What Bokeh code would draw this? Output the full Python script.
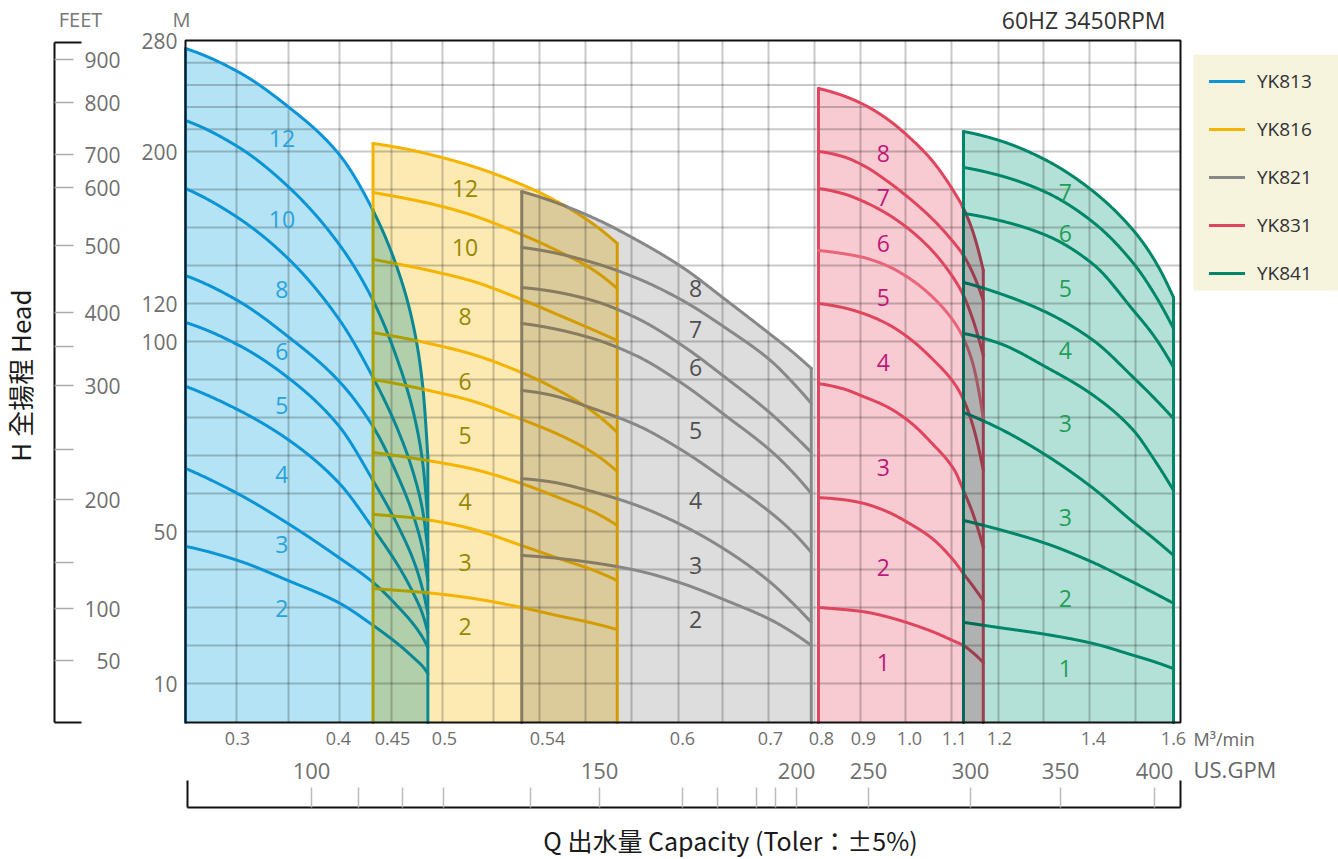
import numpy as np
from bokeh.plotting import figure
from bokeh.models import (Range1d, LinearAxis, FixedTicker, CustomJSTickFormatter,
                          Label, Legend, LegendItem)
from bokeh.core.properties import value
from bokeh.embed import file_html
from bokeh.resources import INLINE

# ------------------------------------------------------------------ data
TITLE = "60HZ 3450RPM"
MODELS = ["YK813", "YK816", "YK821", "YK831", "YK841"]

# capacity axis (M3/min) tick labels
Q_TICKS = [0.3, 0.4, 0.45, 0.5, 0.54, 0.6, 0.7, 0.8, 0.9, 1.0, 1.1, 1.2, 1.4, 1.6]
Q_TICK_LABELS = ["0.3", "0.4", "0.45", "0.5", "0.54", "0.6", "0.7", "0.8",
                 "0.9", "1.0", "1.1", "1.2", "1.4", "1.6"]
# head axis (M) tick labels
M_TICKS = [280, 200, 120, 100, 50, 10]
# head axis (FEET)
FEET_TICKS = [900, 800, 700, 600, 500, 400, 350, 300, 250, 200, 150, 100, 50]
FEET_LABELED = [900, 800, 700, 600, 500, 400, 300, 200, 100, 50]
# capacity axis (US.GPM)
GPM_TICKS = [100, 110, 120, 130, 140, 150, 160, 170, 180, 190, 200, 250, 300, 350, 400]
GPM_LABELED = [100, 150, 200, 250, 300, 350, 400]

# YK813  (Q in m3/min, H in m; one row per stage count)
Q_813 = [0.25, 0.30, 0.35, 0.40, 0.432, 0.457, 0.471, 0.479, 0.484]
STAGES_813 = ["12", "10", "8", "6", "5", "4", "3", "2"]
H_813 = [
    [274.2, 257.7, 232.4, 198.9, 168.9, 134.7, 105.8, 88.4, 69.5],
    [222.3, 203.6, 181.6, 151.6, 121.6, 93.4, 80.3, 68.2, 53.2],
    [180.5, 165.3, 143.7, 112.1, 90.5, 75.5, 64.5, 55.5, 45.0],
    [134.7, 121.6, 102.6, 89.7, 77.6, 63.4, 53.4, 45.3, 37.1],
    [110.0, 99.2, 90.5, 77.9, 63.4, 50.5, 41.8, 34.7, 28.4],
    [88.2, 82.1, 74.2, 62.9, 50.8, 40.3, 33.2, 28.2, 23.4],
    [66.6, 60.0, 52.1, 43.2, 36.6, 29.7, 25.3, 22.1, 19.5],
    [46.1, 42.4, 37.1, 31.3, 25.3, 20.0, 16.6, 14.5, 12.6],
]
# YK816
Q_816 = [0.432, 0.45, 0.47, 0.49, 0.51, 0.53, 0.545, 0.56, 0.571]
STAGES_816 = ["12", "10", "8", "6", "5", "4", "3", "2"]
H_816 = [
    [205.8, 203.6, 200.7, 197.9, 192.6, 182.6, 173.2, 162.1, 151.6],
    [178.4, 176.6, 174.5, 172.1, 166.8, 156.3, 147.4, 137.9, 127.9],
    [143.2, 141.3, 139.2, 136.8, 132.1, 122.1, 113.9, 106.3, 100.5],
    [104.7, 102.9, 100.8, 99.2, 96.8, 91.8, 87.1, 81.6, 76.1],
    [90.0, 89.1, 88.0, 86.8, 84.5, 79.5, 75.5, 70.8, 65.8],
    [70.8, 70.1, 69.3, 68.4, 66.6, 62.6, 58.9, 55.3, 51.6],
    [54.5, 54.1, 53.6, 52.8, 50.8, 46.3, 42.9, 39.9, 37.1],
    [35.0, 34.6, 34.2, 33.7, 32.5, 30.0, 27.8, 25.9, 24.2],
]
# YK821
Q_821 = [0.53, 0.54, 0.56, 0.58, 0.60, 0.65, 0.70, 0.74, 0.78]
STAGES_821 = ["8", "7", "6", "5", "4", "3", "2"]
H_821 = [
    [178.9, 174.7, 165.3, 153.2, 139.0, 121.6, 103.7, 97.6, 92.9],
    [149.5, 147.4, 141.6, 133.2, 121.6, 106.8, 95.0, 89.7, 83.7],
    [128.4, 126.8, 121.6, 112.1, 98.9, 90.3, 81.1, 76.1, 70.8],
    [109.5, 107.4, 101.6, 96.1, 88.9, 80.3, 71.3, 66.1, 60.0],
    [87.1, 86.1, 82.4, 77.9, 71.3, 63.4, 55.0, 50.3, 44.5],
    [63.9, 63.2, 60.5, 56.8, 51.6, 45.0, 36.6, 31.6, 26.1],
    [43.7, 43.2, 41.8, 39.7, 36.3, 31.8, 26.8, 23.7, 20.0],
]
# YK831
Q_831 = [0.794, 0.85, 0.9, 0.95, 1.0, 1.05, 1.1, 1.12, 1.14, 1.164]
STAGES_831 = ["8", "7", "6", "5", "4", "3", "2", "1"]
H_831 = [
    [245.4, 240.4, 233.9, 223.8, 210.1, 195.3, 178.4, 170.0, 158.4, 137.4],
    [200.0, 197.4, 192.6, 184.7, 175.3, 164.7, 151.6, 145.3, 136.3, 121.6],
    [180.5, 177.9, 173.7, 167.4, 158.9, 147.9, 132.6, 124.2, 112.1, 96.3],
    [147.9, 146.3, 144.2, 140.0, 133.2, 123.7, 110.0, 101.6, 94.5, 79.7],
    [120.0, 117.9, 114.7, 109.5, 101.6, 95.5, 88.9, 84.7, 78.2, 66.1],
    [88.9, 87.6, 85.5, 82.9, 78.9, 73.2, 66.1, 60.8, 55.0, 45.8],
    [58.9, 58.4, 57.4, 55.3, 52.1, 48.2, 42.1, 38.9, 35.8, 31.8],
    [30.0, 29.5, 28.9, 27.6, 25.8, 23.7, 21.1, 20.0, 18.2, 15.5],
]
# YK841
Q_841 = [1.12, 1.2, 1.3, 1.4, 1.5, 1.55, 1.6]
STAGES_841 = ["7", "6", "5", "4", "3", "3", "2", "1"]
H_841 = [
    [214.4, 207.9, 195.3, 178.9, 158.4, 143.7, 123.2],
    [191.6, 187.4, 178.4, 162.6, 141.1, 125.8, 106.8],
    [167.4, 163.7, 155.8, 140.5, 116.3, 103.2, 93.2],
    [131.1, 125.3, 115.3, 100.5, 90.5, 85.3, 79.7],
    [104.2, 99.5, 93.2, 85.8, 76.6, 69.2, 60.8],
    [81.3, 77.1, 70.0, 61.3, 52.4, 48.2, 43.7],
    [52.9, 50.5, 46.8, 41.8, 36.6, 33.9, 31.1],
    [26.1, 24.7, 22.9, 20.5, 17.4, 15.8, 13.9],
]

# ------------------------------------------------------------------ layout
# piecewise scales of the printed chart (screen pixels)
Q_KNOTS = [0.25] + Q_TICKS
X_KNOTS = [185, 237, 338, 392, 444, 547, 682, 770, 821, 863, 909, 954, 999, 1093, 1173]
H_KNOTS = [0, 10, 50, 100, 120, 200, 280]
Y_KNOTS = [721, 683, 531, 341, 303, 151, 40]
FEET_POS = [59, 102, 154, 187, 245, 312, 346, 385, 449, 499, 562, 608, 660]
GPM_POS = [311, 358, 402, 443, 530, 599, 682, 717, 756, 775, 796, 868, 970, 1060, 1154]
GRID_X = [236, 288, 339, 391, 442, 493, 539, 585, 631, 678, 722, 768, 814,
          860, 905, 951, 998, 1043, 1089, 1135]
GRID_H = [10, 20, 30, 40, 50, 60, 70, 80, 90, 100, 120, 140, 160, 180, 200,
          216, 232, 248, 264]
CHART_L, CHART_R, CHART_T, CHART_B = 185, 1180, 40, 722
W, H = 1338, 859

# stage-number label anchors (Q, H)
LABEL_Q = {"YK813": 0.344, "YK816": 0.508, "YK821": 0.615, "YK831": 0.943, "YK841": 1.34}
LABEL_H = {
    "YK813": [209.4, 164.2, 127.4, 97.4, 83.2, 65.0, 46.6, 29.7],
    "YK816": [180.5, 149.5, 113.2, 89.5, 75.3, 57.9, 41.8, 25.0],
    "YK821": [127.9, 106.3, 93.2, 76.6, 58.2, 41.1, 26.8],
    "YK831": [198.9, 175.8, 151.6, 123.2, 94.5, 66.8, 40.5, 15.5],
    "YK841": [178.4, 156.8, 127.9, 97.6, 78.4, 53.7, 32.4, 13.9],
}

LINE = {"YK813": "#0b95d6", "YK816": "#f4b400", "YK821": "#888888",
        "YK831": "#e0455e", "YK841": "#00876a"}
FILL = {"YK813": "#b3e3f5", "YK816": "#fde9b2", "YK821": "#dddddd",
        "YK831": "#f8cad2", "YK841": "#b4e1d7"}
TEXTC = {"YK813": "#29a2de", "YK816": "#9a8700", "YK821": "#505050",
         "YK831": "#c0177a", "YK841": "#1f9e55"}
CURVE_COLOR_OVERRIDE = {("YK831", 3): "#ec6479"}

FONT = "Open Sans"
CJK = "Noto Sans CJK TC"

SERIES = [
    dict(name="YK813", q=Q_813, stages=STAGES_813, heads=H_813),
    dict(name="YK816", q=Q_816, stages=STAGES_816, heads=H_816),
    dict(name="YK821", q=Q_821, stages=STAGES_821, heads=H_821),
    dict(name="YK831", q=Q_831, stages=STAGES_831, heads=H_831),
    dict(name="YK841", q=Q_841, stages=STAGES_841, heads=H_841),
]


def xs_of(q):
    return np.interp(np.asarray(q, float), Q_KNOTS, X_KNOTS)


def ys_of(h):
    return np.interp(np.asarray(h, float), H_KNOTS, Y_KNOTS)


def mult(c1, c2):
    a = [int(c1[i:i + 2], 16) for i in (1, 3, 5)]
    b = [int(c2[i:i + 2], 16) for i in (1, 3, 5)]
    return "#%02x%02x%02x" % tuple(int(round(x * y / 255.0)) for x, y in zip(a, b))


def pchip_draw(x, y, xn):
    """monotone cubic drawing path through the read points (rendering only)"""
    x = np.asarray(x, float)
    y = np.asarray(y, float)
    n = len(x)
    h = np.diff(x)
    d = np.diff(y) / h
    m = np.zeros(n)
    for k in range(1, n - 1):
        if d[k - 1] * d[k] <= 0:
            m[k] = 0.0
        else:
            w1, w2 = 2 * h[k] + h[k - 1], h[k] + 2 * h[k - 1]
            m[k] = (w1 + w2) / (w1 / d[k - 1] + w2 / d[k])

    def end(h0, h1, d0, d1):
        mm = ((2 * h0 + h1) * d0 - h0 * d1) / (h0 + h1)
        if np.sign(mm) != np.sign(d0):
            mm = 0.0
        elif np.sign(d0) != np.sign(d1) and abs(mm) > abs(3 * d0):
            mm = 3 * d0
        return mm

    if n > 2:
        m[0] = end(h[0], h[1], d[0], d[1])
        m[-1] = end(h[-1], h[-2], d[-1], d[-2])
    else:
        m[:] = d[0]
    idx = np.clip(np.searchsorted(x, xn) - 1, 0, n - 2)
    t = (xn - x[idx]) / h[idx]
    h00 = 2 * t ** 3 - 3 * t ** 2 + 1
    h10 = t ** 3 - 2 * t ** 2 + t
    h01 = -2 * t ** 3 + 3 * t ** 2
    h11 = t ** 3 - t ** 2
    return h00 * y[idx] + h10 * h[idx] * m[idx] + h01 * y[idx + 1] + h11 * h[idx] * m[idx + 1]


geo = []
for s in SERIES:
    px = xs_of(s["q"])
    xn = np.linspace(px[0], px[-1], int((px[-1] - px[0]) / 0.5) + 1)
    curves = [pchip_draw(px, ys_of(hh), xn) for hh in s["heads"]]
    geo.append(dict(px=xn, curves=curves, env=curves[0], x0=float(xn[0]), x1=float(xn[-1])))


def inside(k, x, y):
    g = geo[k]
    if x < g["x0"] - 0.01 or x > g["x1"] + 0.01:
        return False
    return y >= np.interp(x, g["px"], g["env"]) - 0.5


def split_line(xs, ys, m, base):
    X, Y = [float(xs[0])], [float(ys[0])]
    for i in range(len(xs) - 1):
        dx, dy = xs[i + 1] - xs[i], ys[i + 1] - ys[i]
        n = max(1, int(np.hypot(dx, dy) / 1.5))
        for j in range(1, n + 1):
            X.append(float(xs[i] + dx * j / n))
            Y.append(float(ys[i] + dy * j / n))
    pieces, cur = [], None
    for i in range(len(X) - 1):
        mx, my = (X[i] + X[i + 1]) / 2, (Y[i] + Y[i + 1]) / 2
        col = base
        for k in range(len(geo)):
            if k != m and inside(k, mx, my):
                col = mult(base, FILL[SERIES[k]["name"]])
                break
        if cur is None or cur[0] != col:
            cur = [col, [X[i]], [Y[i]]]
            pieces.append(cur)
        cur[1].append(X[i + 1])
        cur[2].append(Y[i + 1])
    return pieces


# ------------------------------------------------------------------ figure
p = figure(width=W, height=H, x_range=Range1d(0, W), y_range=Range1d(H, 0),
           x_axis_type=None, y_axis_type=None, output_backend="svg",
           toolbar_location=None, min_border=0, title=None)
p.outline_line_color = None
p.background_fill_color = "white"
p.border_fill_color = "white"

# region fills
bx, by, bc = [], [], []
for s, g in zip(SERIES, geo):
    bx.append([g["x0"]] + list(g["px"]) + [g["x1"]])
    by.append([CHART_B] + list(g["env"]) + [CHART_B])
    bc.append(FILL[s["name"]])
p.patches(bx, by, fill_color=bc, line_color=None)

# overlapping parts (multiplied colours)
ox, oy, oc = [], [], []
for i in range(len(geo)):
    for j in range(i + 1, len(geo)):
        a, b = geo[i], geo[j]
        xa, xb = max(a["x0"], b["x0"]), min(a["x1"], b["x1"])
        if xb <= xa:
            continue
        xx = np.linspace(xa, xb, 200)
        top = np.maximum(np.interp(xx, a["px"], a["env"]), np.interp(xx, b["px"], b["env"]))
        ox.append([xa] + list(xx) + [xb])
        oy.append([CHART_B] + list(top) + [CHART_B])
        oc.append(mult(FILL[SERIES[i]["name"]], FILL[SERIES[j]["name"]]))
p.patches(ox, oy, fill_color=oc, line_color=None)

# grid
gh = [float(v) for v in ys_of(GRID_H)]
p.segment(x0=CHART_L, x1=CHART_R, y0=gh, y1=gh, line_color="black", line_alpha=0.21, line_width=2)
p.segment(x0=GRID_X, x1=GRID_X, y0=CHART_T, y1=CHART_B, line_color="black", line_alpha=0.21, line_width=2)

# curves
legend_r = {}
for m, (s, g) in enumerate(zip(SERIES, geo)):
    name = s["name"]
    groups = {}
    paths = []
    for ci, c in enumerate(g["curves"]):
        paths.append((g["px"], c, CURVE_COLOR_OVERRIDE.get((name, ci), LINE[name])))
    paths.append(([g["x0"], g["x0"]], [g["env"][0], CHART_B], LINE[name]))
    paths.append(([g["x1"], g["x1"]], [g["env"][-1], CHART_B], LINE[name]))
    for xs, ys, col in paths:
        for c, pxs, pys in split_line(list(xs), list(ys), m, col):
            groups.setdefault(c, ([], []))
            groups[c][0].append(pxs)
            groups[c][1].append(pys)
    for c, (gx, gy) in groups.items():
        r = p.multi_line(gx, gy, line_color=c, line_width=3, line_join="round", line_cap="round")
        if c == LINE[name]:
            legend_r[name] = r

# stage numbers
for s in SERIES:
    name = s["name"]
    hh = LABEL_H[name]
    p.text(x=[float(xs_of(LABEL_Q[name]))] * len(hh), y=[float(v) for v in ys_of(hh)],
           text=s["stages"], text_color=TEXTC[name], text_font=value(FONT),
           text_font_size="23px", text_align="center", text_baseline="middle")

# chart frame
p.quad(left=CHART_L, right=CHART_R, top=CHART_T, bottom=CHART_B,
       fill_color=None, line_color="#111111", line_width=2)

# axis end caps
p.segment(x0=[54, 54, 187, 1180], y0=[42, 722, 780, 780],
          x1=[81, 81, 187, 1180], y1=[42, 722, 807, 807],
          line_color="#111111", line_width=2)

TICKC = "#6f6f6f"
blank = CustomJSTickFormatter(code="return ''")

# M axis (labels only)
m_pos = [int(round(float(v))) for v in ys_of(M_TICKS)]
p.add_layout(LinearAxis(
    fixed_location=CHART_L, bounds=(30, 730), ticker=FixedTicker(ticks=m_pos),
    major_label_overrides={k: str(v) for k, v in zip(m_pos, M_TICKS)},
    axis_line_color=None, major_tick_line_color=None, minor_tick_line_color=None,
    major_tick_in=0, major_tick_out=0, major_label_standoff=8,
    major_label_text_font=FONT, major_label_text_font_size="21px",
    major_label_text_color=TICKC), "left")

# FEET axis: rule + ticks
p.add_layout(LinearAxis(
    fixed_location=54, bounds=(42, 722), ticker=FixedTicker(ticks=FEET_POS),
    formatter=blank, axis_line_color="#111111", axis_line_width=2,
    major_tick_line_color="#aaaaaa", major_tick_line_width=1.5,
    minor_tick_line_color=None, major_tick_in=0, major_tick_out=19,
    major_label_standoff=0), "right")
# FEET axis labels (right aligned)
f_lab_pos = [FEET_POS[FEET_TICKS.index(v)] for v in FEET_LABELED]
p.add_layout(LinearAxis(
    fixed_location=122, bounds=(30, 730), ticker=FixedTicker(ticks=f_lab_pos),
    major_label_overrides={k: str(v) for k, v in zip(f_lab_pos, FEET_LABELED)},
    axis_line_color=None, major_tick_line_color=None, minor_tick_line_color=None,
    major_tick_in=0, major_tick_out=0, major_label_standoff=2,
    major_label_text_font=FONT, major_label_text_font_size="21px",
    major_label_text_color=TICKC), "left")

# Q axis (M3/min)
q_pos = [int(round(float(v))) for v in xs_of(Q_TICKS)]
p.add_layout(LinearAxis(
    fixed_location=CHART_B, bounds=(180, 1190), ticker=FixedTicker(ticks=q_pos),
    major_label_overrides={k: v for k, v in zip(q_pos, Q_TICK_LABELS)},
    axis_line_color=None, major_tick_line_color=None, minor_tick_line_color=None,
    major_tick_in=0, major_tick_out=0, major_label_standoff=9,
    major_label_text_font=FONT, major_label_text_font_size="18px",
    major_label_text_color=TICKC), "below")

# GPM axis
p.add_layout(LinearAxis(
    fixed_location=807, bounds=(187, 1180), ticker=FixedTicker(ticks=GPM_POS),
    major_label_overrides={k: (str(v) if v in GPM_LABELED else "") for k, v in zip(GPM_POS, GPM_TICKS)},
    axis_line_color="#111111", axis_line_width=2,
    major_tick_line_color="#bbbbbb", major_tick_line_width=1.5,
    minor_tick_line_color=None, major_tick_in=0, major_tick_out=20,
    major_label_standoff=9,
    major_label_text_font=FONT, major_label_text_font_size="22px",
    major_label_text_color=TICKC), "above")


# texts
def lab(x, y, text, size, color, align="left", font=FONT, angle=0.0):
    p.add_layout(Label(x=x, y=y, text=text, text_font=font, text_font_size=size,
                       text_color=color, text_align=align, text_baseline="middle",
                       angle=angle))


lab(80, 19, "FEET", "20px", "#777777", "center")
lab(181, 19, "M", "20px", "#777777", "center")
lab(1165, 19, TITLE, "23px", "#333333", "right")
lab(1193, 738, "M³/min", "18px", "#666666")
lab(1193, 768, "US.GPM", "22px", "#666666")
lab(19, 375, "H 全揚程 Head", "26px", "#1a1a1a", "center", CJK, np.pi / 2)
lab(730, 839, "Q 出水量 Capacity (Toler：±5%)", "25px", "#1a1a1a", "center", CJK)

# legend (background panel + items)
p.quad(left=1193, right=W, top=54, bottom=290, fill_color="#f7f4de", line_color=None)
legend = Legend(
    items=[LegendItem(label=n, renderers=[legend_r[n]]) for n in MODELS],
    location=(1209, 573), orientation="vertical",
    background_fill_alpha=0.0, border_line_color=None,
    label_text_font=FONT, label_text_font_size="19px", label_text_color="#333333",
    glyph_width=36, glyph_height=20, label_height=20, label_standoff=12,
    spacing=22, padding=0, margin=0)
p.add_layout(legend)

open("out.html", "w").write(file_html(p, INLINE))
